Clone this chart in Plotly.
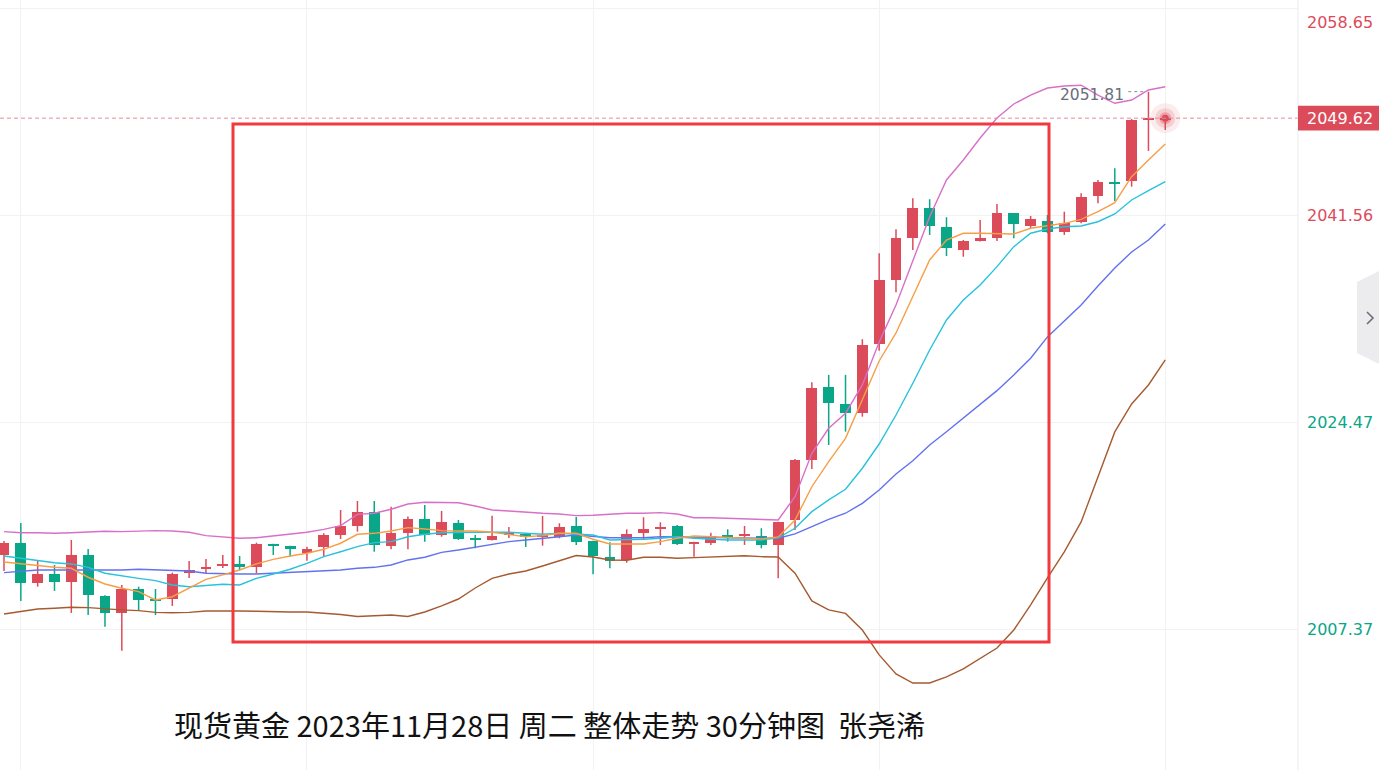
import plotly.graph_objects as go

# ---------------- data ----------------
idx = list(range(70))

opens = [2013.52, 2014.54, 2011.18, 2011.93, 2011.31, 2013.52, 2010.16, 2008.70, 2010.71, 2009.88,
         2009.88, 2012.01, 2012.34, 2012.64, 2012.78, 2012.55, 2014.43, 2014.26, 2013.66, 2014.21,
         2015.17, 2015.92, 2017.10, 2014.26, 2015.36, 2016.50, 2015.17, 2016.14, 2014.90, 2014.76,
         2015.17, 2015.26, 2015.03, 2015.03, 2015.92, 2014.68, 2013.38, 2013.11, 2015.31, 2015.64,
         2015.92, 2014.49, 2014.54, 2015.17, 2015.12, 2015.09, 2014.35, 2016.41, 2021.37, 2027.38,
         2026.00, 2025.23, 2030.93, 2036.25, 2039.69, 2042.17, 2040.65, 2038.73, 2039.47, 2039.74,
         2041.76, 2040.71, 2041.15, 2040.19, 2041.06, 2043.19, 2044.37, 2044.43, 2049.47, 2049.58]

highs = [2014.68, 2016.16, 2013.02, 2012.69, 2014.76, 2014.02, 2010.20, 2011.04, 2010.90, 2010.71,
         2012.06, 2013.02, 2013.19, 2013.52, 2013.44, 2014.54, 2014.45, 2014.28, 2014.21, 2015.31,
         2017.24, 2017.98, 2017.98, 2017.51, 2016.69, 2017.65, 2017.16, 2016.41, 2015.17, 2016.77,
         2015.83, 2015.34, 2016.74, 2016.14, 2016.66, 2014.70, 2014.57, 2015.64, 2016.64, 2016.22,
         2016.00, 2014.62, 2015.36, 2015.64, 2015.92, 2015.73, 2016.27, 2021.45, 2027.79, 2028.40,
         2028.40, 2031.35, 2038.45, 2040.44, 2043.00, 2042.92, 2041.43, 2039.55, 2041.20, 2042.53,
         2041.78, 2041.54, 2041.62, 2041.89, 2043.41, 2044.51, 2045.48, 2049.55, 2051.81, 2049.66]

lows = [2012.20, 2009.72, 2010.90, 2010.55, 2008.73, 2008.56, 2007.59, 2005.61, 2008.97, 2008.56,
        2009.31, 2011.62, 2012.03, 2012.45, 2012.28, 2012.01, 2013.52, 2013.38, 2013.05, 2013.44,
        2014.84, 2015.45, 2013.79, 2013.99, 2013.99, 2014.62, 2015.03, 2014.76, 2014.07, 2014.72,
        2014.93, 2014.18, 2014.29, 2014.90, 2014.35, 2011.93, 2012.42, 2012.88, 2014.76, 2014.35,
        2014.35, 2013.38, 2014.35, 2014.62, 2014.35, 2014.07, 2011.59, 2015.59, 2020.63, 2022.61,
        2023.71, 2024.95, 2030.40, 2035.23, 2038.73, 2039.97, 2038.23, 2038.17, 2039.43, 2039.47,
        2039.69, 2040.52, 2040.11, 2039.97, 2040.93, 2042.58, 2042.77, 2043.96, 2046.91, 2048.64]

closes = [2014.54, 2011.18, 2011.93, 2011.31, 2013.52, 2010.21, 2008.70, 2010.71, 2009.80, 2009.72,
          2011.95, 2012.28, 2012.55, 2012.78, 2012.55, 2014.43, 2014.29, 2014.04, 2013.99, 2015.17,
          2015.92, 2017.10, 2014.35, 2015.30, 2016.50, 2015.17, 2016.22, 2014.84, 2014.76, 2015.09,
          2015.36, 2015.03, 2015.17, 2015.86, 2014.62, 2013.46, 2013.05, 2015.26, 2015.64, 2015.86,
          2014.43, 2014.62, 2015.09, 2014.98, 2015.26, 2014.35, 2016.22, 2021.37, 2027.30, 2026.06,
          2025.23, 2030.87, 2036.25, 2039.69, 2042.17, 2040.71, 2038.87, 2039.47, 2039.69, 2041.81,
          2040.85, 2041.26, 2040.24, 2040.98, 2043.13, 2044.37, 2044.24, 2049.47, 2049.61, 2049.62]

ma_orange = [2012.94, 2012.78, 2012.61, 2012.50, 2012.42, 2011.68, 2011.12, 2010.77, 2010.49, 2009.80,
             2010.07, 2010.82, 2011.51, 2011.87, 2012.28, 2012.78, 2013.16, 2013.44, 2013.66, 2013.99,
             2014.49, 2015.23, 2015.31, 2015.50, 2015.78, 2015.67, 2015.53, 2015.50, 2015.50, 2015.40,
             2015.23, 2015.03, 2015.12, 2015.31, 2015.31, 2014.82, 2014.43, 2014.40, 2014.43, 2014.62,
             2014.90, 2015.09, 2015.03, 2014.95, 2014.90, 2014.84, 2015.01, 2016.41, 2019.16, 2021.23,
             2023.16, 2026.33, 2029.55, 2031.87, 2034.87, 2037.90, 2039.55, 2040.11, 2040.11, 2040.05,
             2040.05, 2040.52, 2040.71, 2040.93, 2041.26, 2041.89, 2042.63, 2044.78, 2046.16, 2047.49]

ma_cyan = [2013.44, 2013.25, 2013.02, 2012.88, 2012.78, 2012.50, 2012.01, 2011.78, 2011.59, 2011.40,
           2011.04, 2010.90, 2010.98, 2011.10, 2011.04, 2011.59, 2011.95, 2012.34, 2012.83, 2013.38,
           2013.79, 2014.21, 2014.54, 2014.62, 2015.03, 2015.23, 2015.36, 2015.40, 2015.40, 2015.40,
           2015.40, 2015.31, 2015.23, 2015.31, 2015.26, 2015.17, 2014.76, 2014.76, 2014.82, 2014.90,
           2015.03, 2014.90, 2014.82, 2014.76, 2014.76, 2014.76, 2014.93, 2015.73, 2017.10, 2018.07,
           2018.95, 2020.69, 2022.69, 2025.09, 2027.71, 2030.46, 2032.94, 2034.59, 2035.83, 2037.35,
           2039.00, 2040.11, 2040.46, 2040.65, 2040.71, 2041.06, 2041.70, 2042.86, 2043.63, 2044.37]

ma_blue = [2012.06, 2012.20, 2012.28, 2012.28, 2012.28, 2012.28, 2012.22, 2012.28, 2012.34, 2012.28,
           2012.22, 2012.20, 2012.01, 2011.95, 2011.95, 2011.95, 2012.01, 2012.06, 2012.14, 2012.22,
           2012.28, 2012.42, 2012.50, 2012.69, 2013.11, 2013.33, 2013.74, 2013.93, 2014.16, 2014.43,
           2014.62, 2014.76, 2014.87, 2015.03, 2015.17, 2015.09, 2014.95, 2014.95, 2014.95, 2015.03,
           2015.03, 2015.03, 2014.98, 2014.95, 2014.90, 2014.90, 2014.90, 2015.26, 2015.86, 2016.47,
           2016.97, 2017.79, 2018.89, 2020.21, 2021.31, 2022.61, 2023.71, 2024.82, 2025.92, 2027.10,
           2028.40, 2029.78, 2031.54, 2032.86, 2034.18, 2035.75, 2037.24, 2038.56, 2039.55, 2040.87]

boll_upper = [2015.45, 2015.36, 2015.36, 2015.31, 2015.36, 2015.40, 2015.48, 2015.45, 2015.50, 2015.53,
              2015.50, 2015.40, 2015.12, 2014.98, 2014.90, 2014.95, 2015.09, 2015.23, 2015.40, 2015.64,
              2015.94, 2016.88, 2016.97, 2017.30, 2017.73, 2017.88, 2017.88, 2017.84, 2017.57, 2017.24,
              2017.16, 2017.05, 2016.97, 2016.91, 2016.77, 2016.80, 2016.91, 2016.97, 2016.97, 2017.02,
              2016.91, 2016.60, 2016.60, 2016.55, 2016.47, 2016.41, 2016.41, 2018.34, 2021.92, 2023.99,
              2025.23, 2027.57, 2031.12, 2034.18, 2037.90, 2041.48, 2044.51, 2046.16, 2047.98, 2049.63,
              2050.79, 2051.53, 2052.11, 2052.28, 2052.34, 2051.53, 2050.85, 2051.12, 2051.95, 2052.22]

boll_lower = [2008.64, 2008.83, 2009.06, 2009.12, 2009.20, 2009.17, 2009.06, 2008.98, 2008.92, 2008.78,
              2008.75, 2008.78, 2008.89, 2008.92, 2008.89, 2008.87, 2008.81, 2008.81, 2008.81, 2008.73,
              2008.60, 2008.44, 2008.52, 2008.56, 2008.44, 2008.81, 2009.31, 2009.88, 2010.79, 2011.59,
              2011.95, 2012.20, 2012.61, 2013.05, 2013.48, 2013.35, 2013.11, 2013.08, 2013.33, 2013.33,
              2013.25, 2013.30, 2013.35, 2013.41, 2013.46, 2013.38, 2013.35, 2012.01, 2009.72, 2008.98,
              2008.69, 2007.32, 2005.26, 2003.69, 2002.94, 2002.94, 2003.44, 2004.10, 2004.93, 2005.83,
              2007.32, 2009.39, 2011.62, 2013.77, 2016.25, 2019.97, 2023.69, 2026.00, 2027.57, 2029.64]

price_ticks = [2058.65, 2041.56, 2024.47, 2007.37]
price_tick_up = [True, True, False, False]
grid_x = [1, 18, 35, 52, 69]
last_price = 2049.62
title_text = "现货黄金 2023年11月28日 周二 整体走势 30分钟图 \u00a0张尧浠"

# ---------------- styles ----------------
RED = "#dc4b5a"
GREEN = "#0aa688"
GRID = "#f2f2f5"
W, H = 1379, 770
PLOT_W = 1298
X_RANGE = [-0.2377, 76.886]
Y_RANGE = [1995.75, 2059.385]
MIN_BODY = 0.13

fig = go.Figure()

# candle bodies and wicks
for up, col in ((True, RED), (False, GREEN)):
    xs, bases, hs = [], [], []
    for i, o, c in zip(idx, opens, closes):
        if (c >= o) != up:
            continue
        lo, hi = min(o, c), max(o, c)
        if hi - lo < MIN_BODY:
            mid = (hi + lo) / 2
            lo, hi = mid - MIN_BODY / 2, mid + MIN_BODY / 2
        xs.append(i)
        bases.append(lo)
        hs.append(hi - lo)
    fig.add_trace(go.Bar(x=xs, y=hs, base=bases, width=0.64,
                         marker=dict(color=col, line=dict(width=0)),
                         hoverinfo="skip"))
    wx, wy = [], []
    for i, o, c, h, l in zip(idx, opens, closes, highs, lows):
        if (c >= o) != up:
            continue
        wx += [i, i, None]
        wy += [l, h, None]
    fig.add_trace(go.Scatter(x=wx, y=wy, mode="lines",
                             line=dict(color=col, width=1.5), hoverinfo="skip"))

# indicator lines
for ys, col in ((boll_lower, "#a65a2f"), (ma_blue, "#6272ee"), (ma_cyan, "#28c2dc"),
                (ma_orange, "#f79e48"), (boll_upper, "#d870c8")):
    fig.add_trace(go.Scatter(x=idx, y=ys, mode="lines",
                             line=dict(color=col, width=1.4), hoverinfo="skip"))

# current price dashed line
fig.add_shape(type="line", xref="paper", yref="y", x0=0, x1=1, y0=last_price, y1=last_price,
              line=dict(color="#e38d9b", width=1, dash="4px,3px"))

# glow marker at the last close
for size, colr in ((30, "rgba(220,75,90,0.10)"), (20, "rgba(220,75,90,0.18)"),
                   (12, "rgba(220,75,90,0.35)"), (7, RED)):
    fig.add_trace(go.Scatter(x=[idx[-1]], y=[closes[-1]], mode="markers",
                             marker=dict(size=size, color=colr, line=dict(width=0)),
                             hoverinfo="skip"))

# right price-axis separator
fig.add_shape(type="line", xref="paper", yref="paper", x0=1, x1=1, y0=0, y1=1,
              line=dict(color="#ebebf0", width=1))

# highlight rectangle
fig.add_shape(type="rect", xref="paper", yref="paper",
              x0=233 / PLOT_W, x1=1049 / PLOT_W, y0=1 - 642 / H, y1=1 - 124 / H,
              line=dict(color="#f03a3e", width=3), fillcolor="rgba(0,0,0,0)")

# price labels
lab_x = 1 + 7 / PLOT_W
for k, (v, up) in enumerate(zip(price_ticks, price_tick_up)):
    col = RED if up else GREEN
    if k == 0:
        fig.add_annotation(xref="paper", yref="paper", x=lab_x, y=1 - 22 / H,
                           text=f"{v:.2f}", showarrow=False, xanchor="left", yanchor="middle",
                           font=dict(family="DejaVu Sans", size=16, color=col))
    else:
        fig.add_annotation(xref="paper", yref="y", x=lab_x, y=v,
                           text=f"{v:.2f}", showarrow=False, xanchor="left", yanchor="middle",
                           font=dict(family="DejaVu Sans", size=16, color=col))

# current price tag
fig.add_shape(type="rect", xref="paper", yref="y", x0=1, x1=W / PLOT_W,
              y0=last_price - 1.03, y1=last_price + 1.03,
              fillcolor=RED, line=dict(width=0))
fig.add_annotation(xref="paper", yref="y", x=lab_x, y=last_price, text=f"{last_price:.2f}",
                   showarrow=False, xanchor="left", yanchor="middle",
                   font=dict(family="DejaVu Sans", size=16, color="white"))

# max-high label
hi_i = max(idx, key=lambda i: highs[i])
fig.add_annotation(xref="x", yref="y", x=hi_i, y=highs[hi_i], text=f"{highs[hi_i]:.2f}",
                   showarrow=False, xanchor="right", yanchor="middle", xshift=-22, yshift=-3,
                   font=dict(family="DejaVu Sans", size=15.5, color="#6a6d7c"))
fig.add_shape(type="line", xref="x", yref="y", x0=hi_i - 1.2, x1=hi_i - 0.15,
              y0=highs[hi_i], y1=highs[hi_i], line=dict(color="#8a8d9a", width=1, dash="dot"))

# right-edge collapse tab
def px(x, y):
    return f"{x / PLOT_W:.5f},{1 - y / H:.5f}"
fig.add_shape(type="path", xref="paper", yref="paper",
              path=f"M {px(1357,282)} L {px(1379,271)} L {px(1379,364)} L {px(1357,353)} Z",
              fillcolor="#ececef", line=dict(width=0))
fig.add_shape(type="path", xref="paper", yref="paper",
              path=f"M {px(1367,312)} L {px(1373,318)} L {px(1367,324)}",
              line=dict(color="#6b6e7e", width=1.6))

# title
fig.add_annotation(xref="paper", yref="paper", x=549 / PLOT_W, y=1 - 724 / H,
                   text=title_text, showarrow=False, xanchor="center", yanchor="middle",
                   font=dict(family="Noto Sans CJK SC", size=29, color="#111111"))

fig.update_layout(
    width=W, height=H,
    margin=dict(l=0, r=W - PLOT_W, t=0, b=0, pad=0),
    paper_bgcolor="white", plot_bgcolor="white",
    showlegend=False, barmode="overlay", bargap=0,
    xaxis=dict(range=X_RANGE, tickvals=grid_x, showticklabels=False, ticks="",
               showgrid=True, gridcolor=GRID, gridwidth=1, zeroline=False, showline=False,
               fixedrange=True),
    yaxis=dict(range=Y_RANGE, tickvals=price_ticks, showticklabels=False, ticks="",
               showgrid=True, gridcolor=GRID, gridwidth=1, zeroline=False, showline=False,
               fixedrange=True),
)

fig.write_html("out.html", config={"displayModeBar": False})
